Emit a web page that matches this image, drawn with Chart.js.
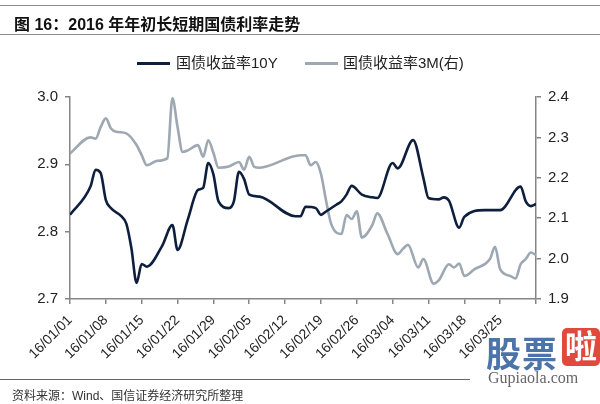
<!DOCTYPE html>
<html>
<head>
<meta charset="utf-8">
<script src="https://cdn.jsdelivr.net/npm/chart.js@4"></script>
<style>
  body { margin: 0; background: #fff; font-family: "Liberation Sans", Arial, "Noto Sans CJK SC", sans-serif; }
  #wrap { position: relative; width: 600px; height: 404px; overflow: hidden; }
  #wrap canvas { position: absolute; left: 0; top: 0; }
  .rule { position: absolute; left: 0; height: 0; border-top: 1px solid #8c8c8c; }
  #title { position: absolute; left: 14px; top: 11px; font-size: 16px; font-weight: bold; color: #111; white-space: nowrap; }
  .leg { position: absolute; top: 54px; font-size: 15px; color: #222; white-space: nowrap; line-height: 18px; }
  .sw { position: absolute; top: 62px; width: 33px; height: 3px; }
  #source { position: absolute; left: 12px; top: 386px; font-size: 12px; color: #333; white-space: nowrap; }
  #wm1 { position: absolute; left: 486px; top: 326px; font-size: 35px; font-weight: bold; color: #4a74aa; letter-spacing: 1px; }
  #wm2 { position: absolute; left: 562px; top: 328px; width: 38px; height: 38px; border-radius: 5px; background: #e04a3c; color: #fff; font-size: 32px; text-align: center; line-height: 38px; font-weight: bold; }
  #wm3 { position: absolute; left: 488px; top: 369px; font-size: 16px; font-family: "Liberation Serif", serif; color: #666; }
</style>
</head>
<body>
<div id="wrap">
  <canvas id="bondChart" width="600" height="404"></canvas>
  <div class="rule" style="top:5px;width:600px"></div>
  <div id="title">图 16：2016 年年初长短期国债利率走势</div>
  <div class="rule" style="top:34px;width:600px"></div>
  <div class="sw" style="left:137px;background:#0e1f3e"></div>
  <div class="leg" style="left:176px">国债收益率10Y</div>
  <div class="sw" style="left:305px;background:#9ea8b2"></div>
  <div class="leg" style="left:343px">国债收益率3M(右)</div>
  <div class="rule" style="top:379px;width:470px;border-color:#666"></div>
  <div id="source">资料来源：Wind、国信证券经济研究所整理</div>
  <div id="wm1">股票</div>
  <div id="wm2">啦</div>
  <div id="wm3">Gupiaola.com</div>
</div>
<script>
    // 10年期国债收益率（左轴）
    const dates10Y = [
        '01-01', '01-05', '01-06', '01-07', '01-08', '01-09', '01-11', '01-12', '01-13', '01-14',
        '01-15', '01-16', '01-19', '01-21', '01-22', '01-24', '01-26', '01-27', '01-28', '01-29',
        '01-30', '02-01', '02-02', '02-03', '02-04', '02-05', '02-07', '02-14', '02-15', '02-16',
        '02-18', '02-19', '02-20', '02-22', '02-23', '02-24', '02-25', '02-27', '02-29', '03-01',
        '03-04', '03-05', '03-08', '03-10', '03-11', '03-13', '03-14', '03-15', '03-17', '03-18',
        '03-22', '03-25', '03-29', '03-30', '03-31', '04-01'
    ];
    const values10Y = [
        2.825, 2.867, 2.892, 2.887, 2.847, 2.835, 2.823, 2.812, 2.775, 2.724,
        2.752, 2.748, 2.779, 2.810, 2.773, 2.818, 2.862, 2.865, 2.902, 2.885,
        2.845, 2.835, 2.845, 2.889, 2.878, 2.855, 2.852, 2.823, 2.823, 2.837,
        2.835, 2.825, 2.830, 2.840, 2.845, 2.855, 2.868, 2.855, 2.851, 2.850,
        2.902, 2.894, 2.936, 2.880, 2.850, 2.848, 2.851, 2.846, 2.806, 2.822,
        2.832, 2.832, 2.867, 2.845, 2.838, 2.841
    ];

    // 3个月国债收益率（右轴）
    const dates3M = [
        '01-01', '01-05', '01-06', '01-07', '01-08', '01-09', '01-10', '01-12', '01-14', '01-15',
        '01-16', '01-18', '01-20', '01-21', '01-22', '01-23', '01-24', '01-26', '01-27', '01-28',
        '01-29', '01-30', '02-01', '02-03', '02-04', '02-05', '02-06', '02-07', '02-15', '02-16',
        '02-17', '02-18', '02-19', '02-20', '02-21', '02-23', '02-24', '02-25', '02-26', '02-27',
        '02-29', '03-01', '03-03', '03-05', '03-06', '03-07', '03-09', '03-10', '03-12', '03-13',
        '03-15', '03-16', '03-17', '03-18', '03-20', '03-23', '03-24', '03-25', '03-27', '03-28',
        '03-29', '03-30', '03-31', '04-01'
    ];
    const values3M = [
        2.260, 2.300, 2.297, 2.326, 2.347, 2.322, 2.314, 2.310, 2.281, 2.256,
        2.231, 2.242, 2.248, 2.397, 2.326, 2.264, 2.268, 2.281, 2.252, 2.293,
        2.262, 2.225, 2.228, 2.239, 2.220, 2.252, 2.227, 2.225, 2.256, 2.256,
        2.231, 2.239, 2.210, 2.144, 2.086, 2.061, 2.108, 2.098, 2.117, 2.052,
        2.082, 2.112, 2.061, 2.011, 2.024, 2.034, 1.978, 1.999, 1.938, 1.946,
        1.986, 1.978, 1.988, 1.957, 1.974, 1.999, 2.029, 1.974, 1.957, 1.951,
        1.986, 1.999, 2.015, 2.009
    ];

    const leftTicks = [2.7, 2.8, 2.9, 3.0];
    const rightTicks = [1.9, 2.0, 2.1, 2.2, 2.3, 2.4];
    const weekStep = 7;
    const lastDay = 91;

    const DAY = 86400000;
    const start = Date.UTC(2016, 0, 1);
    const toDay = s => {
        const [m, d] = s.split('-').map(Number);
        return (Date.UTC(2016, m - 1, d) - start) / DAY;
    };
    const dayLabel = v => {
        const dt = new Date(start + v * DAY);
        const mm = String(dt.getUTCMonth() + 1).padStart(2, '0');
        const dd = String(dt.getUTCDate()).padStart(2, '0');
        return '16/' + mm + '/' + dd;
    };

    const axisColor = '#858585';
    const tickFont = {family: '"Liberation Sans", Arial, sans-serif', size: 15};

    const ctx = document.getElementById('bondChart').getContext('2d');
    new Chart(ctx, {
        type: 'line',
        data: {
            datasets: [{
                label: '国债收益率10Y',
                data: dates10Y.map((d, i) => ({x: toDay(d), y: values10Y[i]})),
                borderColor: '#0e1f3e',
                borderWidth: 2.6,
                pointRadius: 0,
                cubicInterpolationMode: 'monotone',
                yAxisID: 'y'
            }, {
                label: '国债收益率3M(右)',
                data: dates3M.map((d, i) => ({x: toDay(d), y: values3M[i]})),
                borderColor: '#9ea8b2',
                borderWidth: 2.6,
                pointRadius: 0,
                cubicInterpolationMode: 'monotone',
                yAxisID: 'y1'
            }]
        },
        options: {
            responsive: false,
            animation: false,
            layout: {padding: {top: 97, bottom: 0, left: 0, right: 0}},
            plugins: {legend: {display: false}, tooltip: {enabled: false}},
            scales: {
                x: {
                    type: 'linear',
                    min: 0,
                    max: lastDay,
                    afterBuildTicks: scale => {
                        scale.ticks = [];
                        for (let v = 0; v <= lastDay; v += weekStep) scale.ticks.push({value: v});
                    },
                    afterFit: scale => { scale.height = 105; },
                    grid: {display: true, drawOnChartArea: false, drawTicks: true, tickLength: 5, color: axisColor, lineWidth: 1.5},
                    border: {display: true, color: axisColor, width: 1.5},
                    ticks: {
                        autoSkip: false,
                        maxRotation: 45,
                        minRotation: 45,
                        padding: 8,
                        color: '#222',
                        font: {family: tickFont.family, size: 14},
                        callback: v => v >= lastDay ? '' : dayLabel(v)
                    }
                },
                y: {
                    position: 'left',
                    min: leftTicks[0],
                    max: leftTicks[leftTicks.length - 1],
                    afterBuildTicks: scale => { scale.ticks = leftTicks.map(v => ({value: v})); },
                    afterFit: scale => { scale.width = 70; },
                    grid: {display: true, drawOnChartArea: false, drawTicks: true, tickLength: 5, color: axisColor, lineWidth: 1.5},
                    border: {display: true, color: axisColor, width: 1.5},
                    ticks: {color: '#222', font: tickFont, padding: 7, callback: v => v.toFixed(1)}
                },
                y1: {
                    position: 'right',
                    min: rightTicks[0],
                    max: rightTicks[rightTicks.length - 1],
                    afterBuildTicks: scale => { scale.ticks = rightTicks.map(v => ({value: v})); },
                    afterFit: scale => { scale.width = 64; },
                    grid: {display: true, drawOnChartArea: false, drawTicks: true, tickLength: 5, color: axisColor, lineWidth: 1.5},
                    border: {display: true, color: axisColor, width: 1.5},
                    ticks: {color: '#222', font: tickFont, padding: 7, callback: v => v.toFixed(1)}
                }
            }
        }
    });
</script>
</body>
</html>
